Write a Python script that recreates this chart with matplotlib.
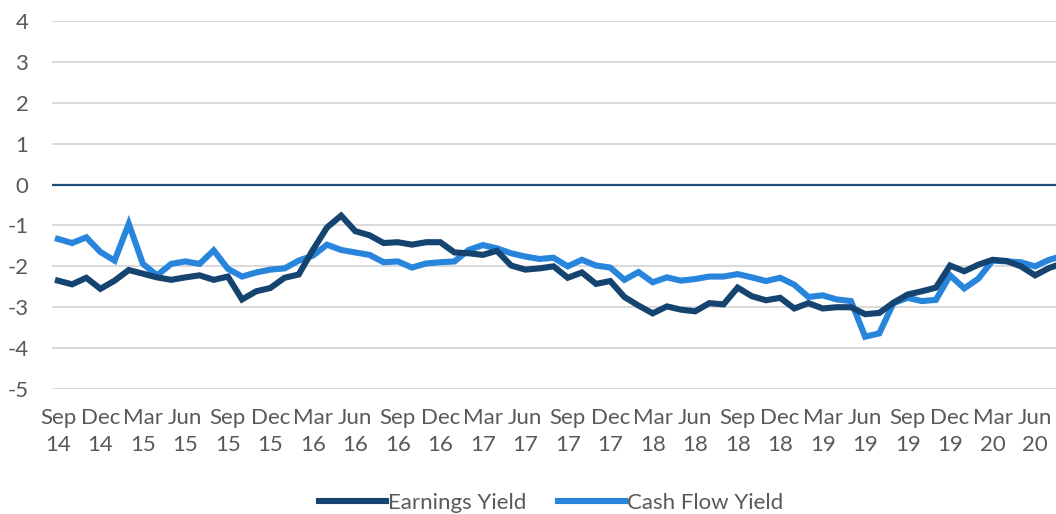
import matplotlib.pyplot as plt
import numpy as np

plt.rcParams['font.family'] = ['Lato', 'DejaVu Sans']
plt.rcParams['axes.unicode_minus'] = False

# monthly, Sep 2014 .. Aug 2020
months = ['Sep', 'Oct', 'Nov', 'Dec', 'Jan', 'Feb', 'Mar', 'Apr', 'May', 'Jun', 'Jul', 'Aug']
years = [14] * 4 + [15] * 12 + [16] * 12 + [17] * 12 + [18] * 12 + [19] * 12 + [20] * 8
labels = [months[i % 12] + '\n' + str(years[i]) for i in range(len(years))]

earnings = [-2.35, -2.44, -2.28, -2.55, -2.35, -2.09, -2.18, -2.27, -2.33, -2.27,
            -2.22, -2.33, -2.25, -2.81, -2.61, -2.53, -2.28, -2.20, -1.60, -1.05,
            -0.76, -1.14, -1.24, -1.43, -1.41, -1.47, -1.41, -1.41, -1.66, -1.68,
            -1.72, -1.62, -1.98, -2.08, -2.05, -2.00, -2.28, -2.15, -2.43, -2.36,
            -2.75, -2.96, -3.15, -2.98, -3.06, -3.10, -2.90, -2.93, -2.52, -2.73,
            -2.83, -2.77, -3.03, -2.90, -3.03, -3.00, -3.00, -3.17, -3.14, -2.89,
            -2.69, -2.61, -2.52, -1.98, -2.12, -1.96, -1.84, -1.87, -2.00, -2.22,
            -2.04, -1.92]

cash_flow = [-1.33, -1.43, -1.29, -1.65, -1.86, -0.96, -1.94, -2.22, -1.94, -1.88,
             -1.94, -1.61, -2.06, -2.25, -2.15, -2.08, -2.05, -1.86, -1.74, -1.47,
             -1.60, -1.66, -1.72, -1.90, -1.88, -2.03, -1.93, -1.90, -1.88, -1.60,
             -1.48, -1.56, -1.68, -1.76, -1.82, -1.79, -2.00, -1.84, -1.98, -2.03,
             -2.33, -2.14, -2.39, -2.27, -2.35, -2.31, -2.25, -2.25, -2.19, -2.27,
             -2.36, -2.28, -2.45, -2.75, -2.71, -2.81, -2.85, -3.72, -3.64, -2.90,
             -2.77, -2.85, -2.82, -2.22, -2.54, -2.30, -1.86, -1.88, -1.90, -2.00,
             -1.84, -1.74]

x = np.arange(len(earnings))

fig = plt.figure(figsize=(10.56, 5.14), dpi=100)
ax = fig.add_axes([52 / 1056, 1 - 389 / 514, 1 - 52 / 1056, (389 - 21) / 514])

for v in range(-5, 5):
    if v != 0:
        ax.axhline(v, color='#d9d9d9', lw=1.4, zorder=0)
ax.axhline(0, color='#1f4e79', lw=1.6, zorder=1)

ax.plot(x, earnings, color='#164470', lw=4.4, label='Earnings Yield', zorder=3,
        solid_joinstyle='miter')
ax.plot(x, cash_flow, color='#2785dc', lw=4.4, label='Cash Flow Yield', zorder=2,
        solid_joinstyle='miter')

ax.set_xlim(-0.42, 70.48)
ax.set_ylim(-5, 4)
ax.set_yticks(range(-5, 5))
ax.set_xticks(x[::3])
ax.set_xticklabels(labels[::3], linespacing=1.4)
ax.tick_params(axis='both', length=0, labelsize=16, colors='#595959')
ax.tick_params(axis='x', pad=14)
ax.tick_params(axis='y', pad=17)
for s in ax.spines.values():
    s.set_visible(False)

fig.legend(loc='center', bbox_to_anchor=(0.522, 0.022), ncol=2, frameon=False,
           fontsize=16, handlelength=3.0, handletextpad=0.1, columnspacing=1.4,
           labelcolor='#595959')

fig.savefig('out.png', dpi=100)
